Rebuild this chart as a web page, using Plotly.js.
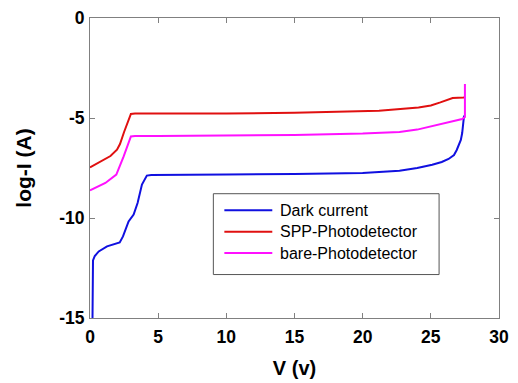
<!DOCTYPE html>
<html>
<head>
<meta charset="utf-8">
<script src="https://cdn.plot.ly/plotly-3.0.1.min.js"></script>
<style>
  html, body { margin: 0; padding: 0; background: #fff; }
  #chart { width: 518px; height: 383px; }
</style>
</head>
<body>
<div id="chart"></div>
<script>
// Current–voltage curves (log scale of current) for the three devices
const seriesNames = ["Dark current", "SPP-Photodetector", "bare-Photodetector"];
const seriesColors = ["#1010e0", "#e01010", "#ff10ff"];

const darkV = [0.18, 0.2, 0.22, 0.35, 0.64, 1.25, 2.18, 2.42, 2.83, 3.2, 3.49, 3.81, 4.17, 4.5, 6, 10, 15, 20, 22.7, 24, 25.1, 25.8, 26.3, 26.7, 26.9, 27.1, 27.2, 27.3, 27.36, 27.43, 27.5];
const darkI = [-15.3, -13.5, -12.12, -11.9, -11.67, -11.42, -11.22, -10.92, -10.17, -9.83, -9.25, -8.33, -7.88, -7.85, -7.85, -7.82, -7.8, -7.75, -7.64, -7.5, -7.34, -7.2, -7.05, -6.85, -6.6, -6.3, -6.1, -5.75, -5.42, -4.92, -4.9];

const sppV = [0, 0.77, 1.5, 1.98, 2.2, 2.5, 3.0, 3.3, 5, 10, 15, 20, 21.2, 24.1, 25, 25.7, 26.3, 26.6, 27.4, 27.5];
const sppI = [-7.47, -7.17, -6.9, -6.58, -6.3, -5.7, -4.8, -4.78, -4.78, -4.77, -4.74, -4.68, -4.64, -4.47, -4.37, -4.22, -4.05, -4.0, -3.97, -3.96];

const bareV = [0, 1.13, 1.93, 2.47, 3.0, 3.3, 5, 10, 15, 20, 22.7, 24, 25, 25.6, 26.3, 27.3, 27.5, 27.5];
const bareI = [-8.62, -8.25, -7.83, -6.92, -5.92, -5.9, -5.9, -5.88, -5.85, -5.78, -5.7, -5.58, -5.42, -5.32, -5.22, -5.05, -4.95, -3.3];

const xTicks = [0, 5, 10, 15, 20, 25, 30];
const yTicks = [-15, -10, -5, 0];

const allV = [darkV, sppV, bareV];
const allI = [darkI, sppI, bareI];

const traces = seriesNames.map((name, k) => ({
  type: "scatter",
  mode: "lines",
  name: name,
  x: allV[k],
  y: allI[k],
  line: { color: seriesColors[k], width: 2 },
  showlegend: false
}));

// Boxed legend drawn in paper coordinates
const legBox = { x0: 0.3016, x1: 0.8535, y0: 0.1448, y1: 0.4143 };
const legRows = [0.3594, 0.2879, 0.2163];
const shapes = [{
  type: "rect", xref: "paper", yref: "paper",
  x0: legBox.x0, x1: legBox.x1, y0: legBox.y0, y1: legBox.y1,
  line: { color: "#555", width: 1 }, fillcolor: "#fff", layer: "above"
}];
const annotations = [];
seriesNames.forEach((name, k) => {
  shapes.push({
    type: "line", xref: "paper", yref: "paper",
    x0: 0.3285, x1: 0.4457, y0: legRows[k], y1: legRows[k],
    line: { color: seriesColors[k], width: 2 }, layer: "above"
  });
  annotations.push({
    xref: "paper", yref: "paper", x: 0.4603, y: legRows[k],
    xanchor: "left", yanchor: "middle", showarrow: false,
    text: name, font: { family: "Liberation Sans, Arial, sans-serif", size: 16, color: "#000" }
  });
});

const fam = "Liberation Sans, Arial, sans-serif";
const tickFont = { family: fam, size: 17.5, color: "#000", weight: "bold" };
const axisCommon = {
  showgrid: false, zeroline: false,
  showline: true, linecolor: "#808080", linewidth: 1, mirror: "allticks",
  ticks: "inside", ticklen: 5, tickcolor: "#808080", tickwidth: 1,
  tickfont: tickFont
};

const layout = {
  width: 518, height: 383,
  margin: { l: 89.5, r: 19, t: 18, b: 64.5 },
  paper_bgcolor: "#fff", plot_bgcolor: "#fff",
  xaxis: Object.assign({}, axisCommon, {
    range: [0, 30], tickvals: xTicks, ticktext: xTicks.map(String),
    ticklabelstandoff: 3,
    title: { text: "V (v)", font: { family: fam, size: 20, color: "#000", weight: "bold" }, standoff: 14 }
  }),
  yaxis: Object.assign({}, axisCommon, {
    range: [-15, 0], tickvals: yTicks, ticktext: yTicks.map(String),
    ticklabelstandoff: 1,
    title: { text: "log-I (A)", font: { family: fam, size: 21, color: "#000", weight: "bold" }, standoff: 21 }
  }),
  shapes: shapes,
  annotations: annotations
};

Plotly.newPlot("chart", traces, layout, { staticPlot: true, displayModeBar: false });
</script>
</body>
</html>
